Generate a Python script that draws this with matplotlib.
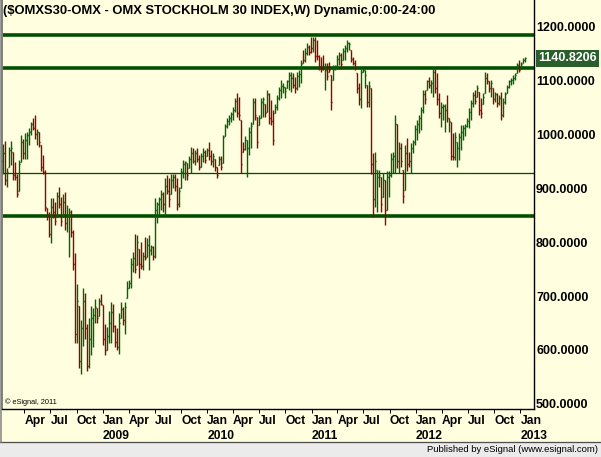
import numpy as np
import pandas as pd
import matplotlib
matplotlib.use('Agg')
import matplotlib.pyplot as plt
import matplotlib.dates as mdates
from matplotlib.transforms import blended_transform_factory

# weekly bars of $OMXS30, first week ending 2008-01-18
first_week = '2008-01-18'

highs = [982, 988, 937, 977, 988, 968, 949, 927, 952, 999,
         992, 1002, 1005, 1011, 1023, 1030, 1036, 1009, 1005, 980,
         962, 933, 863, 856, 881, 881, 875, 893, 903, 884,
         890, 893, 869, 863, 860, 822, 780, 722, 681, 655,
         714, 706, 648, 659, 681, 677, 694, 678, 696, 704,
         683, 648, 643, 673, 689, 685, 646, 640, 669, 688,
         679, 689, 727, 730, 770, 782, 815, 813, 788, 801,
         782, 810, 807, 813, 795, 792, 881, 875, 884, 897,
         893, 918, 924, 918, 927, 927, 927, 918, 903, 937,
         952, 950, 946, 959, 977, 974, 971, 974, 962, 965,
         974, 971, 974, 986, 971, 965, 955, 940, 959, 959,
         999, 1020, 1030, 1036, 1042, 1051, 1067, 1076, 1070, 1027,
         986, 996, 989, 1014, 1023, 1067, 1067, 1033, 1036, 1067,
         1070, 1057, 1082, 1076, 1064, 1045, 1057, 1073, 1088, 1101,
         1095, 1088, 1101, 1116, 1116, 1113, 1107, 1116, 1119, 1138,
         1156, 1160, 1169, 1166, 1181, 1181, 1181, 1175, 1147, 1144,
         1147, 1132, 1132, 1135, 1110, 1129, 1129, 1147, 1153, 1150,
         1160, 1166, 1175, 1172, 1156, 1144, 1138, 1113, 1095, 1122,
         1122, 1119, 1091, 1098, 1085, 965, 968, 934, 934, 921,
         928, 915, 931, 931, 965, 968, 1036, 1020, 986, 983,
         934, 980, 993, 968, 983, 989, 1017, 1027, 1036, 1051,
         1082, 1082, 1101, 1107, 1101, 1125, 1122, 1113, 1076, 1060,
         1057, 1057, 1073, 1030, 1023, 1002, 1005, 986, 1002, 1017,
         1017, 1020, 1030, 1048, 1064, 1079, 1082, 1091, 1079, 1067,
         1076, 1116, 1113, 1098, 1101, 1085, 1079, 1076, 1073, 1079,
         1067, 1079, 1091, 1101, 1104, 1110, 1113, 1132, 1138, 1135,
         1141, 1144]

lows = [927, 906, 903, 940, 943, 915, 915, 884, 894, 949,
        955, 955, 955, 980, 999, 1008, 992, 980, 977, 931,
        927, 857, 841, 810, 799, 844, 832, 847, 863, 829,
        847, 822, 819, 772, 810, 748, 612, 613, 566, 555,
        607, 621, 560, 566, 590, 606, 649, 649, 662, 683,
        609, 590, 600, 612, 613, 634, 606, 600, 592, 659,
        646, 629, 697, 714, 714, 745, 742, 757, 733, 751,
        748, 767, 773, 748, 776, 767, 770, 835, 853, 860,
        856, 850, 890, 866, 890, 900, 894, 860, 866, 900,
        918, 915, 915, 937, 928, 946, 943, 949, 934, 940,
        949, 946, 959, 952, 943, 940, 931, 918, 943, 934,
        946, 996, 1011, 1017, 1023, 1027, 1042, 1033, 1027, 928,
        968, 971, 921, 962, 974, 1020, 1027, 974, 1017, 1030,
        1033, 1033, 1042, 1020, 1017, 980, 1039, 1045, 1064, 1067,
        1076, 1067, 1085, 1082, 1079, 1085, 1076, 1082, 1088, 1095,
        1132, 1135, 1147, 1147, 1150, 1153, 1135, 1138, 1119, 1116,
        1119, 1082, 1101, 1116, 1045, 1101, 1119, 1122, 1129, 1122,
        1138, 1138, 1153, 1156, 1135, 1129, 1119, 1076, 1054, 1048,
        1116, 1085, 1051, 1051, 927, 847, 866, 856, 903, 856,
        884, 832, 860, 884, 921, 928, 928, 937, 928, 940,
        872, 897, 931, 940, 928, 965, 980, 989, 1002, 1008,
        1039, 1057, 1082, 1085, 1076, 1070, 1076, 1054, 1030, 1014,
        1027, 1005, 1023, 1005, 952, 952, 952, 940, 952, 971,
        989, 996, 1014, 1011, 1027, 1051, 1057, 1070, 1036, 1030,
        1057, 1076, 1094, 1079, 1070, 1057, 1060, 1051, 1054, 1026,
        1033, 1057, 1076, 1085, 1091, 1094, 1101, 1113, 1116, 1122,
        1132, 1135]

closes = [965, 915, 930, 970, 975, 925, 920, 890, 945, 985,
          965, 990, 998, 1005, 1020, 1012, 1000, 1005, 985, 940,
          930, 865, 850, 815, 865, 855, 840, 885, 870, 840,
          875, 835, 850, 855, 818, 760, 630, 690, 580, 640,
          690, 640, 570, 620, 660, 665, 680, 660, 690, 685,
          620, 600, 625, 650, 670, 645, 615, 605, 650, 675,
          655, 680, 715, 725, 760, 770, 750, 800, 760, 755,
          775, 770, 795, 785, 790, 775, 860, 870, 880, 890,
          870, 905, 895, 880, 915, 920, 905, 870, 895, 930,
          945, 948, 925, 955, 965, 950, 965, 955, 940, 960,
          968, 952, 970, 960, 950, 960, 940, 925, 955, 940,
          995, 1015, 1025, 1030, 1038, 1045, 1062, 1040, 1035, 945,
          972, 990, 975, 1005, 1015, 1060, 1035, 985, 1030, 1060,
          1065, 1040, 1075, 1030, 1025, 990, 1050, 1068, 1082, 1090,
          1088, 1080, 1098, 1110, 1105, 1092, 1085, 1108, 1112, 1130,
          1138, 1150, 1162, 1152, 1160, 1175, 1145, 1145, 1125, 1122,
          1125, 1120, 1108, 1120, 1060, 1122, 1126, 1140, 1148, 1130,
          1155, 1160, 1170, 1168, 1140, 1132, 1124, 1085, 1065, 1115,
          1120, 1110, 1060, 1090, 945, 880, 950, 920, 925, 870,
          915, 860, 920, 925, 955, 960, 1020, 950, 975, 950,
          885, 965, 945, 950, 975, 985, 1010, 1020, 1030, 1045,
          1075, 1065, 1098, 1092, 1095, 1115, 1085, 1065, 1040, 1050,
          1052, 1045, 1030, 1025, 960, 958, 995, 975, 995, 1005,
          1012, 1015, 1025, 1042, 1058, 1072, 1062, 1085, 1045, 1040,
          1070, 1105, 1098, 1085, 1095, 1065, 1075, 1058, 1068, 1035,
          1060, 1075, 1088, 1098, 1100, 1105, 1110, 1128, 1120, 1130,
          1138, 1140.8206]

# g = up bar, r = down bar
bar_colors = ("grgggrrrgg" "rggggrrgrr" "rrrrgrrgrr" "grggrrrgrg" "grrggggrgr"
              "rrgggrrrgg" "rgggggrgrr" "grgggrgggg" "rgrrggrrgg" "ggrggrgrrg"
              "grgrrgrrgr" "gggggggrrr" "rgggggrrgg" "grgrrrgggg" "gggggrrggg"
              "rggrrgrrrr" "rgrrrggggr" "ggggrrrrrg" "ggrgrrgggr" "grgggggrgr"
              "rgrrgggggg" "grgrggrrrg" "ggrgrrgggg" "ggggggrgrr" "ggrrgrgrgr"
              "ggggggggrg" "gg")

thick_levels = [1184, 1123, 849]
thin_levels = [929]
y_ticks = [500, 600, 700, 800, 900, 1000, 1100, 1200]
last_value = 1140.8206
title = '($OMXS30-OMX - OMX STOCKHOLM 30 INDEX,W) Dynamic,0:00-24:00'

W, H = 601, 457
CREAM = '#ffffe0'
GREEN = '#006400'
RED = '#9a0000'
LINE = '#005000'
FONT = 'Liberation Sans'

dates = pd.date_range(first_week, periods=len(closes), freq='W-FRI')
x = mdates.date2num(dates)
highs = np.array(highs, float)
lows = np.array(lows, float)
closes = np.array(closes, float)
opens = np.clip(np.concatenate([[950.0], closes[:-1]]), lows, highs)
cols = [GREEN if c == 'g' else RED for c in bar_colors]

fig = plt.figure(figsize=(W / 100, H / 100), dpi=100, facecolor=CREAM)
ax = fig.add_axes([2 / W, 48 / H, 532 / W, 409 / H], facecolor=CREAM)

px = 0.72   # one pixel in points
day = 3.5   # days per pixel (2 px per week)
ax.vlines(x, lows, highs, colors=cols, lw=1.4 * px, zorder=3)
ax.hlines(opens, x - day, x, colors=cols, lw=1.4 * px, zorder=3)
ax.hlines(closes, x, x + day, colors=cols, lw=1.4 * px, zorder=3)

for lv in thick_levels:
    ax.axhline(lv, color=LINE, lw=3.6 * px, zorder=2)
for lv in thin_levels:
    ax.axhline(lv, color=LINE, lw=1.3 * px, zorder=2)

x0 = x[0]
ax.set_xlim(x0 - 1.33 * day, x0 + (534 - 3.33) * day)
ax.set_ylim(1200 - (409 - 26.5) / 0.539, 1200 + 26.5 / 0.539)

# right price scale
ax.yaxis.tick_right()
ax.set_yticks(y_ticks)
ax.set_yticklabels([f'{v:.4f}' for v in y_ticks], fontsize=9, fontweight='bold',
                   family=FONT)
ax.tick_params(axis='y', length=0, pad=1.5)

# quarterly date scale
ticks = pd.date_range('2008-04-01', '2013-01-01', freq='QS')
ax.set_xticks(mdates.date2num(ticks))
labels = [t.strftime('%b') + ('\n' + str(t.year) if t.month == 1 else '') for t in ticks]
ax.set_xticklabels(labels, fontsize=8.7, fontweight='bold', family=FONT, ha='left',
                   linespacing=1.3)
ax.tick_params(axis='x', direction='out', length=3, width=1 * px, pad=1.5, color='black')

ax.spines['top'].set_visible(False)
ax.spines['left'].set_color('#808080')
ax.spines['left'].set_linewidth(2 * px)
ax.spines['right'].set_linewidth(1.4 * px)
ax.spines['bottom'].set_linewidth(1.4 * px)

# last value marker
tr = blended_transform_factory(ax.transAxes, ax.transData)
ax.text(1 + 4 / 532, last_value, f'{last_value:.4f}', transform=tr, ha='left',
        va='center', fontsize=9, fontweight='bold', family=FONT, color='white',
        bbox=dict(boxstyle='square,pad=0.2', fc='#2a5e2a', ec='none'), zorder=5)

fig.text(3 / W, 1 - 11 / H, title, ha='left', va='center', fontsize=9.4,
         fontweight='bold', family=FONT)
ax.text(3 / 532, 7 / 409, '\u00a9 eSignal, 2011', transform=ax.transAxes, ha='left',
        va='center', fontsize=5.3, family=FONT)

# footer band
fig.patches.append(plt.Rectangle((0, 0), 1, 15.5 / H, transform=fig.transFigure,
                                 fc='#ebebeb', ec='none', zorder=0))
fig.lines.append(plt.Line2D([0, 1], [15.5 / H, 15.5 / H], transform=fig.transFigure,
                            color='#505050', lw=1.3 * px))
fig.lines.append(plt.Line2D([0.5 / W, 0.5 / W], [15.5 / H, 1], transform=fig.transFigure,
                            color='#808080', lw=1.5 * px))
fig.text(598 / W, 7 / H, 'Published by eSignal (www.esignal.com)', ha='right',
         va='center', fontsize=6.8, family=FONT)

fig.savefig('out.png', dpi=100, facecolor=CREAM)
